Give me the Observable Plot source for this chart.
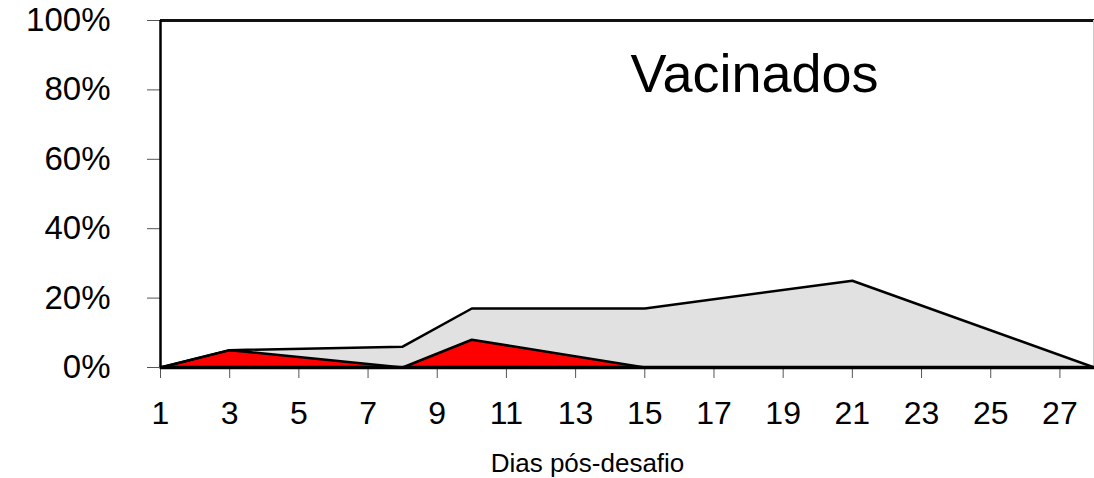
<!DOCTYPE html>
<html>
<head>
<meta charset="utf-8">
<script src="https://cdn.jsdelivr.net/npm/d3@7"></script>
<script src="https://cdn.jsdelivr.net/npm/@observablehq/plot@0.6"></script>
<style>
  html, body { margin: 0; padding: 0; background: white; }
</style>
</head>
<body>
<div id="chart"></div>
<script>
const days = [1, 3, 8, 10, 15, 21, 28];
const totalPct = [0, 5, 6, 17, 17, 25, 0];
const redPct = [0, 5, 0, 8, 0, 0, 0];
const xTicks = [1, 3, 5, 7, 9, 11, 13, 15, 17, 19, 21, 23, 25, 27];
const yTicks = [0, 20, 40, 60, 80, 100];
const title = "Vacinados";
const xLabel = "Dias pós-desafio";

const rows = days.map((d, i) => ({day: d, total: totalPct[i], red: redPct[i]}));

const chart = Plot.plot({
  width: 1094,
  height: 478,
  marginLeft: 160,
  marginRight: 0,
  marginTop: 20,
  marginBottom: 111,
  style: {fontFamily: "'Liberation Sans', Arial, sans-serif", background: "white", color: "black"},
  x: {domain: [1, 28]},
  y: {domain: [0, 100]},
  marks: [
    Plot.areaY(rows, {x: "day", y: "total", fill: "#e1e1e1"}),
    Plot.areaY(rows, {x: "day", y: "red", fill: "#ff0000"}),
    Plot.lineY(rows, {x: "day", y: "total", stroke: "black", strokeWidth: 2.5}),
    Plot.lineY(rows, {x: "day", y: "red", stroke: "black", strokeWidth: 2.5}),
    Plot.ruleY([100], {stroke: "#111", strokeWidth: 3}),
    Plot.ruleX([28], {stroke: "#c8c8c8", strokeWidth: 1, dx: -1}),
    Plot.axisY({ticks: yTicks, tickFormat: d => d + "%", tickSize: 13, tickPadding: 37, fontSize: 33, stroke: "#555", fill: "black", label: null}),
    Plot.axisX({ticks: xTicks, tickFormat: d => String(d), tickSize: 11, tickPadding: 23, fontSize: 32, stroke: "#555", fill: "black", label: null}),
    Plot.ruleX([1], {stroke: "black", strokeWidth: 2.5}),
    Plot.ruleY([0], {stroke: "black", strokeWidth: 3.5}),
    Plot.text([title], {frameAnchor: "top", dx: 127, dy: 33, fontSize: 54, fill: "black"}),
    Plot.text([xLabel], {frameAnchor: "bottom", dx: -40, dy: 104, fontSize: 26, fill: "black"})
  ]
});
document.getElementById("chart").appendChild(chart);
</script>
</body>
</html>
